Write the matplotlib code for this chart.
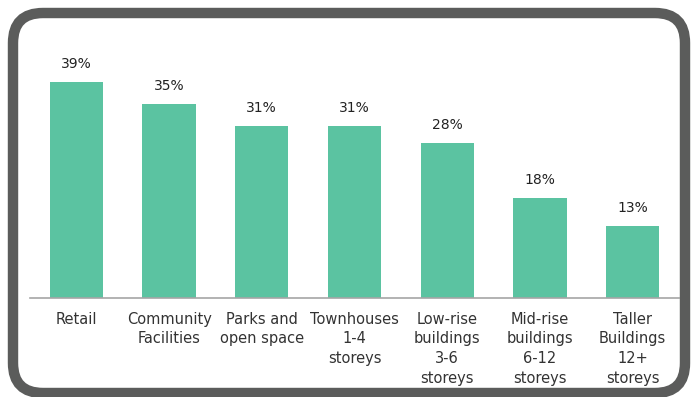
import matplotlib.pyplot as plt
from matplotlib.patches import FancyBboxPatch
from matplotlib.transforms import IdentityTransform

categorias = ['Retail', 'Community\nFacilities', 'Parks and\nopen space',
              'Townhouses\n1-4\nstoreys', 'Low-rise\nbuildings\n3-6\nstoreys',
              'Mid-rise\nbuildings\n6-12\nstoreys', 'Taller\nBuildings\n12+\nstoreys']
porcentajes = [39, 35, 31, 31, 28, 18, 13]

plt.rcParams['font.family'] = ['DejaVu Sans']

fig = plt.figure(figsize=(6.91, 3.97), dpi=100)
# ejes en pixeles: x 30..679, base en y=298 (desde arriba)
ax = fig.add_axes([30 / 691, (397 - 298) / 397, 649 / 691, 258 / 397])

x = range(len(categorias))
barras = ax.bar(x, porcentajes, width=0.575, color='#5BC3A1')

for xi, v in zip(x, porcentajes):
    ax.annotate(f'{v}%', (xi, v), xytext=(0, 8), textcoords='offset points',
                ha='center', va='bottom', fontsize=10, color='#222222')

ax.set_xlim(-0.5, len(categorias) - 0.5)
ax.set_ylim(0, 46.6)
ax.set_xticks(list(x))
ax.set_xticklabels(categorias, fontsize=10.5, color='#333333', linespacing=1.38, va='top')
ax.tick_params(axis='x', length=0, pad=10)
ax.set_yticks([])
for lado in ['top', 'right', 'left']:
    ax.spines[lado].set_visible(False)
ax.spines['bottom'].set_color('#A6A6A6')
ax.spines['bottom'].set_linewidth(1.2)

# marco redondeado gris
marco = FancyBboxPatch((13, 4), 672, 380, boxstyle='round,pad=0,rounding_size=30',
                       transform=IdentityTransform(), facecolor='none',
                       edgecolor='#5B5C5B', linewidth=7.5)
fig.patches.append(marco)

fig.savefig('out.png', dpi=100)
